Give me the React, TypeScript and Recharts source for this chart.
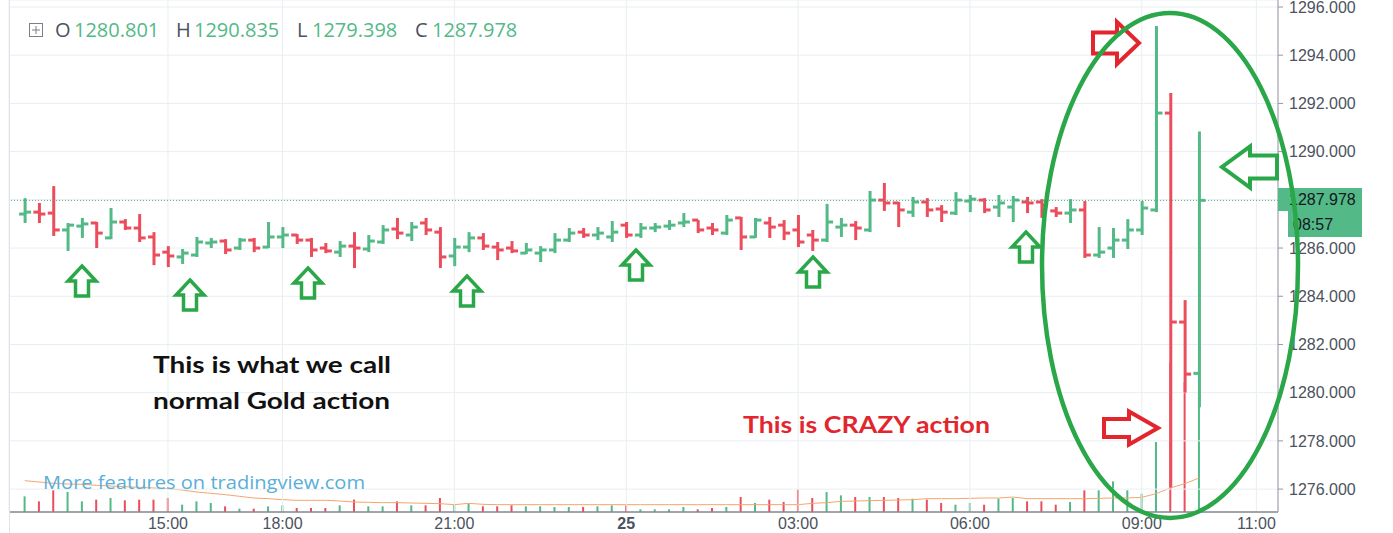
import { ComposedChart, Bar, Line, XAxis, YAxis, CartesianGrid, ReferenceLine, Cell } from 'recharts'

const GREEN = '#53b987'
const RED = '#eb4d5c'

// 15-minute bars, index 0..82
const opens = [
  1287.41, 1287.49, 1287.45, 1286.75, 1286.91, 1287.04, 1286.42, 1287.08, 1286.83, 1286.46,
  1285.83, 1285.63, 1285.71, 1286.21, 1286.29, 1286.00, 1286.33, 1286.04, 1286.46, 1286.54,
  1286.33, 1286.00, 1285.83, 1286.08, 1285.96, 1286.25, 1286.79, 1286.54, 1287.04, 1286.66,
  1285.67, 1286.04, 1286.42, 1286.04, 1286.00, 1285.79, 1285.79, 1285.92, 1286.33, 1286.66,
  1286.54, 1286.46, 1286.95, 1286.54, 1286.83, 1286.91, 1287.04, 1287.16, 1286.83, 1286.62,
  1287.25, 1286.46, 1287.04, 1286.95, 1286.75, 1286.54, 1286.33, 1286.87, 1286.95, 1286.75,
  1287.99, 1287.87, 1287.49, 1287.91, 1287.62, 1287.45, 1287.95, 1287.99, 1287.70, 1287.70,
  1287.91, 1287.91, 1287.54, 1287.45, 1287.58, 1285.71, 1286.00, 1286.33, 1286.75, 1287.58,
  1291.60, 1282.93, 1280.801,
]
const highs = [
  1288.07, 1287.87, 1288.57, 1287.04, 1287.25, 1287.08, 1287.66, 1287.20, 1287.41, 1286.66,
  1286.08, 1285.96, 1286.46, 1286.42, 1286.37, 1286.42, 1286.42, 1287.08, 1286.87, 1286.58,
  1286.42, 1286.21, 1286.29, 1286.66, 1286.54, 1286.95, 1287.25, 1287.08, 1287.25, 1286.87,
  1286.42, 1286.66, 1286.62, 1286.25, 1286.29, 1286.21, 1286.08, 1286.62, 1286.83, 1286.83,
  1286.87, 1287.12, 1287.08, 1287.04, 1287.04, 1287.16, 1287.45, 1287.16, 1287.04, 1287.37,
  1287.29, 1287.25, 1287.29, 1287.16, 1287.37, 1286.75, 1287.83, 1287.25, 1287.12, 1288.37,
  1288.70, 1287.91, 1288.12, 1288.07, 1287.78, 1288.32, 1288.20, 1288.07, 1288.20, 1288.16,
  1288.12, 1288.03, 1287.70, 1288.03, 1287.95, 1286.87, 1286.83, 1287.20, 1287.95, 1295.21,
  1292.43, 1283.84, 1290.835,
]
const lows = [
  1287.04, 1287.04, 1286.50, 1285.88, 1286.42, 1286.00, 1286.37, 1286.75, 1286.25, 1285.29,
  1285.21, 1285.34, 1285.63, 1286.00, 1285.75, 1285.92, 1285.83, 1286.00, 1286.00, 1286.17,
  1285.63, 1285.79, 1285.63, 1285.17, 1285.83, 1286.17, 1286.37, 1286.29, 1286.54, 1285.17,
  1285.25, 1285.83, 1285.92, 1285.50, 1285.79, 1285.75, 1285.42, 1285.79, 1286.25, 1286.42,
  1286.33, 1286.25, 1286.42, 1286.42, 1286.66, 1286.75, 1286.87, 1286.62, 1286.54, 1286.54,
  1285.92, 1286.42, 1286.42, 1286.33, 1286.04, 1285.88, 1286.25, 1286.46, 1286.33, 1286.66,
  1287.54, 1286.87, 1287.29, 1287.29, 1287.08, 1287.37, 1287.49, 1287.45, 1287.29, 1287.08,
  1287.45, 1287.25, 1287.29, 1287.04, 1285.59, 1285.59, 1285.59, 1285.96, 1286.54, 1287.49,
  1276.08, 1280.00, 1279.398,
]
const closes = [
  1287.49, 1287.41, 1286.75, 1286.95, 1287.00, 1286.62, 1287.08, 1286.83, 1286.42, 1285.71,
  1285.67, 1285.79, 1286.25, 1286.25, 1285.92, 1286.33, 1286.00, 1286.46, 1286.54, 1286.33,
  1285.92, 1285.88, 1286.08, 1286.00, 1286.29, 1286.75, 1286.62, 1286.87, 1286.75, 1285.63,
  1286.04, 1286.42, 1286.08, 1285.92, 1285.88, 1285.92, 1285.92, 1286.33, 1286.62, 1286.54,
  1286.62, 1286.66, 1286.54, 1286.83, 1286.87, 1286.95, 1287.08, 1286.75, 1286.75, 1287.16,
  1286.46, 1287.16, 1286.87, 1286.62, 1286.25, 1286.33, 1287.08, 1286.95, 1286.83, 1287.99,
  1287.87, 1287.58, 1287.91, 1287.58, 1287.49, 1287.99, 1288.03, 1287.58, 1287.87, 1287.99,
  1287.87, 1287.78, 1287.45, 1287.58, 1285.71, 1285.83, 1286.33, 1286.75, 1287.66, 1291.60,
  1282.93, 1280.77, 1287.978,
]
const volumes = [
  47, 32, 65, 60, 32, 37, 42, 35, 37, 37, 42, 22, 32, 27, 17, 10, 10, 17, 20, 12,
  12, 12, 20, 37, 17, 17, 32, 20, 20, 42, 22, 25, 17, 17, 20, 17, 17, 15, 15, 15,
  17, 20, 20, 8, 8, 8, 15, 8, 12, 15, 45, 27, 37, 30, 68, 42, 60, 50, 45, 45,
  45, 42, 40, 37, 27, 22, 27, 22, 40, 42, 32, 32, 22, 30, 65, 65, 92, 65, 55, 210,
  450, 390, 345,
]
const volMA = [
  94, 90, 86, 84, 83, 80, 78, 76, 74, 72, 70, 66, 60, 56, 52, 47, 42, 40, 37, 35,
  35, 35, 33, 30, 29, 28, 28, 27, 26, 25, 22, 26, 23, 22, 22, 22, 22, 22, 22, 22,
  22, 22, 22, 22, 22, 22, 22, 22, 22, 22, 22, 22, 22, 22, 22, 26, 28, 32, 33, 34,
  35, 36, 37, 40, 40, 40, 41, 42, 42, 45, 40, 40, 40, 40, 40, 41, 42, 42, 44, 55,
  72, 85, 102,
]

const timeTickIdx = [10, 18, 30, 42, 54, 66, 78, 86]
const timeTickLabels = ['15:00', '18:00', '21:00', '25', '03:00', '06:00', '09:00', '11:00']
const priceTicks = [1276, 1278, 1280, 1282, 1284, 1286, 1288, 1290, 1292, 1294, 1296]
const lastPrice = 1287.978

const data = opens.map((o, i) => ({
  i, o, h: highs[i], l: lows[i], c: closes[i], vol: volumes[i], ma: volMA[i],
}))

const X_DOMAIN: [number, number] = [-1.1, 87.51]
const W = 1393
const H = 533

const Candle = (props: any) => {
  const { x, y, width, height, payload } = props
  const { o, h, l, c } = payload
  const top = Math.min(y, y + height)
  const hgt = Math.abs(height)
  const k = h === l ? 0 : hgt / (h - l)
  const cx = x + width / 2
  const yO = top + (h - o) * k
  const yC = top + (h - c) * k
  const col = c >= o ? GREEN : RED
  return (
    <g>
      <line x1={cx} x2={cx} y1={top} y2={top + hgt} stroke={col} strokeWidth={3} />
      <line x1={cx - 6} x2={cx} y1={yO} y2={yO} stroke={col} strokeWidth={3} />
      <line x1={cx} x2={cx + 6} y1={yC} y2={yC} stroke={col} strokeWidth={3} />
    </g>
  )
}

const TimeTick = (props: any) => {
  const { x, y, payload } = props
  const label = timeTickLabels[timeTickIdx.indexOf(payload.value)] ?? ''
  return (
    <text x={x} y={y} dy="0.71em" textAnchor="middle" fill="#4c525e"
      fontSize={16} fontFamily="Liberation Sans, Arial" fontWeight={label === '25' ? 700 : 400}>
      {label}
    </text>
  )
}

const upArrow = (cx: number, top: number) =>
  `M${cx} ${top} L${cx + 14} ${top + 15} L${cx + 6.5} ${top + 15} L${cx + 6.5} ${top + 30} L${cx - 6.5} ${top + 30} L${cx - 6.5} ${top + 15} L${cx - 14} ${top + 15} Z`

const sideArrow = (x0: number, xh: number, xt: number, cy: number, headH: number, stemH: number) =>
  `M${x0} ${cy - stemH / 2} L${xh} ${cy - stemH / 2} L${xh} ${cy - headH / 2} L${xt} ${cy} L${xh} ${cy + headH / 2} L${xh} ${cy + stemH / 2} L${x0} ${cy + stemH / 2} Z`

const upArrows = [[82, 266], [190, 280], [308, 268], [467, 276], [636, 250], [813, 257], [1026, 232]]

function Overlay() {
  const hdr = { fontFamily: 'Open Sans, sans-serif', fontSize: 20 }
  return (
    <svg width={W} height={H} style={{ position: 'absolute', left: 0, top: 0, pointerEvents: 'none' }}>
      <line x1={9.5} x2={9.5} y1={0} y2={H} stroke="#e0e3eb" />
      {/* legend */}
      <rect x={29.5} y={23.5} width={13} height={13} fill="none" stroke="#7a7f87" />
      <line x1={36} x2={36} y1={26} y2={34} stroke="#7a7f87" />
      <line x1={32} x2={40} y1={30} y2={30} stroke="#7a7f87" />
      <text x={55} y={37} {...hdr} fill="#4c525e">O</text>
      <text x={74} y={37} {...hdr} fill={GREEN}>1280.801</text>
      <text x={176} y={37} {...hdr} fill="#4c525e">H</text>
      <text x={194} y={37} {...hdr} fill={GREEN}>1290.835</text>
      <text x={297} y={37} {...hdr} fill="#4c525e">L</text>
      <text x={312} y={37} {...hdr} fill={GREEN}>1279.398</text>
      <text x={415} y={37} {...hdr} fill="#4c525e">C</text>
      <text x={432} y={37} {...hdr} fill={GREEN}>1287.978</text>
      {/* price label */}
      <rect x={1278} y={188} width={84} height={23} fill={GREEN} />
      <text x={1289} y={205} fontSize={16} fontFamily="Liberation Sans, Arial" fill="#131722">1287.978</text>
      <rect x={1288} y={211} width={74} height={26} fill={GREEN} />
      <text x={1293} y={230} fontSize={16} fontFamily="Liberation Sans, Arial" fill="#131722">08:57</text>
      {/* annotations */}
      <text x={43} y={489} fontSize={18} fontFamily="Open Sans, sans-serif" fill="#5aafd8"
        textLength={322} lengthAdjust="spacingAndGlyphs">More features on tradingview.com</text>
      <text x={153} y={373} fontSize={23} fontWeight={700} fontFamily="Lato, sans-serif" fill="#111"
        textLength={238} lengthAdjust="spacingAndGlyphs">This is what we call</text>
      <text x={153} y={409} fontSize={23} fontWeight={700} fontFamily="Lato, sans-serif" fill="#111"
        textLength={237} lengthAdjust="spacingAndGlyphs">normal Gold action</text>
      <text x={743} y={433} fontSize={23} fontWeight={700} fontFamily="Lato, sans-serif" fill="#e3262e"
        textLength={247} lengthAdjust="spacingAndGlyphs">This is CRAZY action</text>
      {upArrows.map(([cx, top], k) => (
        <path key={k} d={upArrow(cx, top)} fill="none" stroke="#2aa748" strokeWidth={3.5} strokeLinejoin="miter" />
      ))}
      <path d={sideArrow(1093, 1117, 1139, 43, 42, 21)} fill="none" stroke="#e3262e" strokeWidth={4} />
      <path d={sideArrow(1104, 1129, 1158, 428, 33, 18)} fill="none" stroke="#e3262e" strokeWidth={4} />
      <path d={sideArrow(1277, 1250, 1222, 167, 41, 23)} fill="none" stroke="#2aa748" strokeWidth={4} />
      <ellipse cx={1170} cy={265.5} rx={128} ry={252.5} fill="none" stroke="#2aa748" strokeWidth={4.5} />
    </svg>
  )
}

export default function App() {
  return (
    <div style={{ position: 'absolute', left: 0, top: 0, width: W, height: H, background: '#fff', overflow: 'hidden' }}>
      {/* volume layer */}
      <div style={{ position: 'absolute', left: 0, top: 0 }}>
        <ComposedChart width={W} height={H} data={data} margin={{ top: 0, right: 115, left: 9, bottom: 21 }}>
          <XAxis hide type="number" dataKey="i" domain={X_DOMAIN} allowDataOverflow />
          <YAxis hide domain={[0, 1536]} allowDataOverflow />
          <Bar dataKey="vol" barSize={2} isAnimationActive={false}>
            {data.map((d) => (
              <Cell key={d.i} fill={d.c >= d.o ? GREEN : RED} />
            ))}
          </Bar>
          <Line dataKey="ma" type="linear" stroke="#f5a56f" strokeWidth={1} dot={false} isAnimationActive={false} />
        </ComposedChart>
      </div>
      {/* price layer */}
      <div style={{ position: 'absolute', left: 0, top: 0 }}>
        <ComposedChart width={W} height={H} data={data} margin={{ top: 0, right: 0, left: 9, bottom: 0 }}>
          <CartesianGrid stroke="#e9eef2" />
          <XAxis type="number" dataKey="i" domain={X_DOMAIN} allowDataOverflow ticks={timeTickIdx}
            interval={0} height={21} tick={<TimeTick />} tickSize={0} tickMargin={6}
            axisLine={{ stroke: '#50535e' }} />
          <YAxis orientation="right" width={115} domain={[1275.05, 1296.29]} allowDataOverflow
            ticks={priceTicks} interval={0} tickFormatter={(v: number) => v.toFixed(3)}
            tick={{ fill: '#4c525e', fontSize: 16, fontFamily: 'Liberation Sans, Arial' }}
            tickSize={5} tickMargin={6} tickLine={{ stroke: '#9598a1' }} axisLine={{ stroke: '#9598a1' }} />
          <ReferenceLine y={lastPrice} stroke="#4aa88a" strokeDasharray="1 2" />
          <Bar dataKey={(d: any) => [d.l, d.h]} barSize={3} shape={<Candle />} isAnimationActive={false} />
        </ComposedChart>
      </div>
      <Overlay />
    </div>
  )
}
